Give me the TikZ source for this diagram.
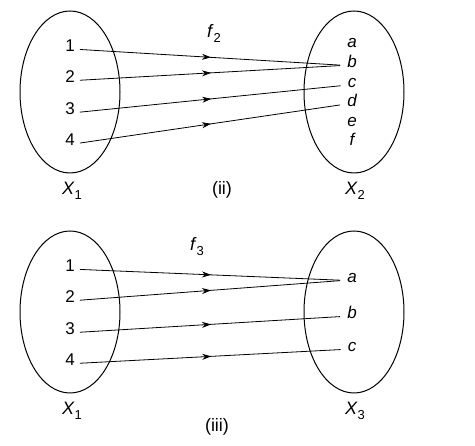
\documentclass[tikz,border=0pt]{standalone}
\usepackage{fontspec}
\setmainfont{Liberation Sans}
\usetikzlibrary{arrows.meta,positioning,shapes.geometric,decorations.markings}
\tikzset{
    setoval/.style={draw, ellipse, minimum width=100pt, minimum height=162pt, inner sep=0pt, line width=1pt},
    elem/.style={anchor=base, inner sep=3pt, font=\fontsize{17}{20}\selectfont},
    letter/.style={elem, font=\fontsize{17}{20}\selectfont\itshape},
    setname/.style={anchor=base, inner sep=0pt, font=\fontsize{18}{21}\selectfont},
    maparrow/.style={line width=0.8pt, shorten <=2pt, shorten >=4pt,
        decoration={markings, mark=at position 0.5 with {\arrow{Stealth[length=9pt,width=6pt]}}},
        postaction={decorate}}
}
\newcommand{\setlabel}[2]{\textit{#1}\raisebox{-5pt}{\fontsize{13}{15}\selectfont #2}}

\begin{document}
\begin{tikzpicture}[x=1pt, y=-1pt]
    \useasboundingbox (0,0) rectangle (475,446);
    % (ii)
    \node[setoval] (domA) at (70,92) {};
    \node[setoval] (codA) at (354,92) {};
    \node[elem] (a1) at (70,52) {1};
    \node[elem] (a2) at (70,83) {2};
    \node[elem] (a3) at (70,115) {3};
    \node[elem] (a4) at (70,146) {4};
    \node[letter] (ta) at (352,48) {a};
    \node[letter] (tb) at (352,68) {b};
    \node[letter] (tc) at (352,88) {c};
    \node[letter] (td) at (352,107) {d};
    \node[letter] (te) at (352,127) {e};
    \node[letter] (tf) at (352,146) {f};
    \node[setname] (nameA1) at (72,195) {\setlabel{X}{1}};
    \node[setname] (nameA2) at (355,195) {\setlabel{X}{2}};
    \node[setname] (capA) at (222,195) {(ii)};
    \node[setname] (fnA) at (214,38) {\setlabel{f}{2}};
    \draw[maparrow] (a1.mid east) -- (tb.mid west);
    \draw[maparrow] (a2.mid east) -- (tb.mid west);
    \draw[maparrow] (a3.mid east) -- (tc.mid west);
    \draw[maparrow] (a4.mid east) -- (td.mid west);
    % (iii)
    \node[setoval] (domB) at (70,312) {};
    \node[setoval] (codB) at (354,312) {};
    \node[elem] (b1) at (70,272) {1};
    \node[elem] (b2) at (70,303) {2};
    \node[elem] (b3) at (70,335) {3};
    \node[elem] (b4) at (70,366) {4};
    \node[letter] (ua) at (352,283) {a};
    \node[letter] (ub) at (352,319) {b};
    \node[letter] (uc) at (352,352) {c};
    \node[setname] (nameB1) at (72,415) {\setlabel{X}{1}};
    \node[setname] (nameB3) at (355,415) {\setlabel{X}{3}};
    \node[setname] (capB) at (217,432) {(iii)};
    \node[setname] (fnB) at (197,251) {\setlabel{f}{3}};
    \draw[maparrow] (b1.mid east) -- (ua.mid west);
    \draw[maparrow] (b2.mid east) -- (ua.mid west);
    \draw[maparrow] (b3.mid east) -- (ub.mid west);
    \draw[maparrow] (b4.mid east) -- (uc.mid west);
\end{tikzpicture}
\end{document}
